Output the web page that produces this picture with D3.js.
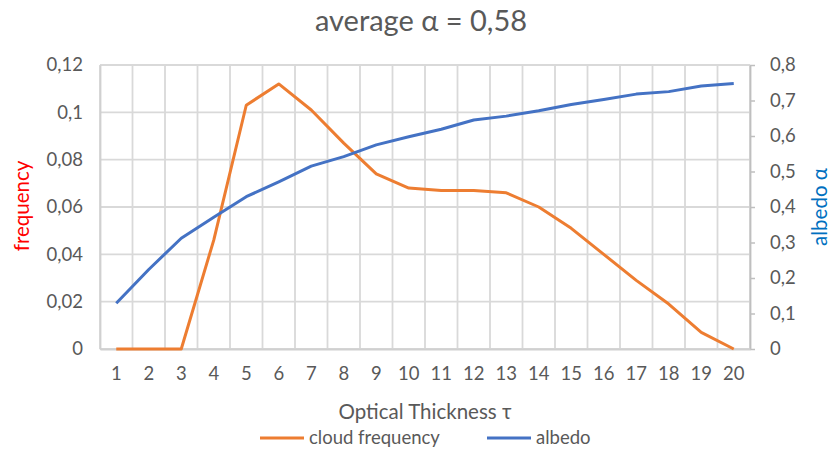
<!DOCTYPE html>
<html>
<head>
<meta charset="utf-8">
<script src="https://cdn.jsdelivr.net/npm/d3@7"></script>
<style>
  html, body { margin: 0; padding: 0; background: #fff; }
  svg { display: block; font-family: Lato, "Open Sans", sans-serif; }
</style>
</head>
<body>
<svg id="chart" width="833" height="449"></svg>
<script>
// Optical thickness categories
const tau = [1, 2, 3, 4, 5, 6, 7, 8, 9, 10, 11, 12, 13, 14, 15, 16, 17, 18, 19, 20];
// Cloud frequency per thickness bin (left axis)
const cloudFrequency = [0, 0, 0, 0.046, 0.103, 0.112, 0.101, 0.087, 0.074, 0.068,
                        0.067, 0.067, 0.066, 0.060, 0.051, 0.040, 0.029, 0.019, 0.007, 0];
// Albedo per thickness bin (right axis)
const albedo = [0.129, 0.224, 0.312, 0.371, 0.429, 0.471, 0.515, 0.542, 0.575, 0.598,
                0.619, 0.645, 0.656, 0.671, 0.689, 0.703, 0.718, 0.725, 0.741, 0.748];
// Tick labels
const leftTicks = [0, 0.02, 0.04, 0.06, 0.08, 0.1, 0.12];
const rightTicks = [0, 0.1, 0.2, 0.3, 0.4, 0.5, 0.6, 0.7, 0.8];
const fmt = v => String(+v.toFixed(2)).replace(".", ",");

const svg = d3.select("#chart");
const m = { left: 100, right: 750, top: 65, bottom: 349 };
const orange = "#ED7D31", blue = "#4472C4", grid = "#D9D9D9", text = "#595959";
const tickFont = 18.5;

const x = d3.scaleBand().domain(tau).range([m.left, m.right]).paddingInner(0).paddingOuter(0);
const yL = d3.scaleLinear().domain([0, 0.12]).range([m.bottom, m.top]);
const yR = d3.scaleLinear().domain([0, 0.8]).range([m.bottom, m.top]);
const cx = d => x(d) + x.bandwidth() / 2;

// Title
svg.append("text").attr("x", 421).attr("y", 31).attr("text-anchor", "middle")
  .attr("font-size", 29).attr("fill", text).text("average α = 0,58");

// Horizontal gridlines
svg.append("g").selectAll("line").data(leftTicks).join("line")
  .attr("x1", m.left).attr("x2", m.right)
  .attr("y1", d => yL(d)).attr("y2", d => yL(d))
  .attr("stroke", grid).attr("stroke-width", 1.8);

// Vertical gridlines at category boundaries
const bounds = tau.map(d => x(d)).concat([m.right]);
svg.append("g").selectAll("line").data(bounds).join("line")
  .attr("x1", d => d).attr("x2", d => d)
  .attr("y1", m.top).attr("y2", m.bottom)
  .attr("stroke", grid).attr("stroke-width", 1.8);

// Left axis
const gL = svg.append("g").attr("transform", `translate(${m.left},0)`)
  .call(d3.axisLeft(yL).tickValues(leftTicks).tickFormat(fmt).tickSize(0).tickPadding(17));
gL.select(".domain").attr("stroke", "#D0D0D0").attr("stroke-width", 1.8);
gL.selectAll("text").attr("font-size", tickFont).attr("fill", text).attr("font-family", "Lato, sans-serif");

// Right axis with outside ticks
const gR = svg.append("g").attr("transform", `translate(${m.right},0)`)
  .call(d3.axisRight(yR).tickValues(rightTicks).tickFormat(fmt).tickSizeInner(5).tickSizeOuter(0).tickPadding(15));
gR.select(".domain").attr("stroke", "#BFBFBF").attr("stroke-width", 1.8);
gR.selectAll(".tick line").attr("stroke", "#BFBFBF").attr("stroke-width", 1.5);
gR.selectAll("text").attr("font-size", tickFont).attr("fill", text).attr("font-family", "Lato, sans-serif");

// Bottom axis
const gB = svg.append("g").attr("transform", `translate(0,${m.bottom})`)
  .call(d3.axisBottom(x).tickSize(0).tickPadding(18));
gB.select(".domain").attr("stroke", "#D0D0D0").attr("stroke-width", 1.8);
gB.selectAll("text").attr("font-size", tickFont).attr("fill", text).attr("font-family", "Lato, sans-serif");

// Series lines
const lineL = d3.line().x((d, i) => cx(tau[i])).y(d => yL(d));
const lineR = d3.line().x((d, i) => cx(tau[i])).y(d => yR(d));
svg.append("path").datum(cloudFrequency).attr("d", lineL)
  .attr("fill", "none").attr("stroke", orange).attr("stroke-width", 3).attr("stroke-linejoin", "round");
svg.append("path").datum(albedo).attr("d", lineR)
  .attr("fill", "none").attr("stroke", blue).attr("stroke-width", 3).attr("stroke-linejoin", "round");

// Axis titles
svg.append("text").attr("x", 425).attr("y", 419).attr("text-anchor", "middle")
  .attr("font-size", 20.5).attr("fill", text).text("Optical Thickness τ");
svg.append("text").attr("transform", "translate(29,206) rotate(-90)").attr("text-anchor", "middle")
  .attr("font-size", 20.5).attr("fill", "#FF0000").text("frequency");
svg.append("text").attr("transform", "translate(827,207) rotate(-90)").attr("text-anchor", "middle")
  .attr("font-size", 20.5).attr("fill", "#0070C0").text("albedo α");

// Legend
const legend = [{ name: "cloud frequency", color: orange, x: 260 }, { name: "albedo", color: blue, x: 487 }];
const lg = svg.append("g").selectAll("g").data(legend).join("g")
  .attr("transform", d => `translate(${d.x},438)`);
lg.append("line").attr("x1", 0).attr("x2", 44).attr("y1", 0).attr("y2", 0)
  .attr("stroke", d => d.color).attr("stroke-width", 3);
lg.append("text").attr("x", 49).attr("y", 0).attr("dy", "0.35em")
  .attr("font-size", 18.5).attr("fill", text).text(d => d.name);
</script>
</body>
</html>
